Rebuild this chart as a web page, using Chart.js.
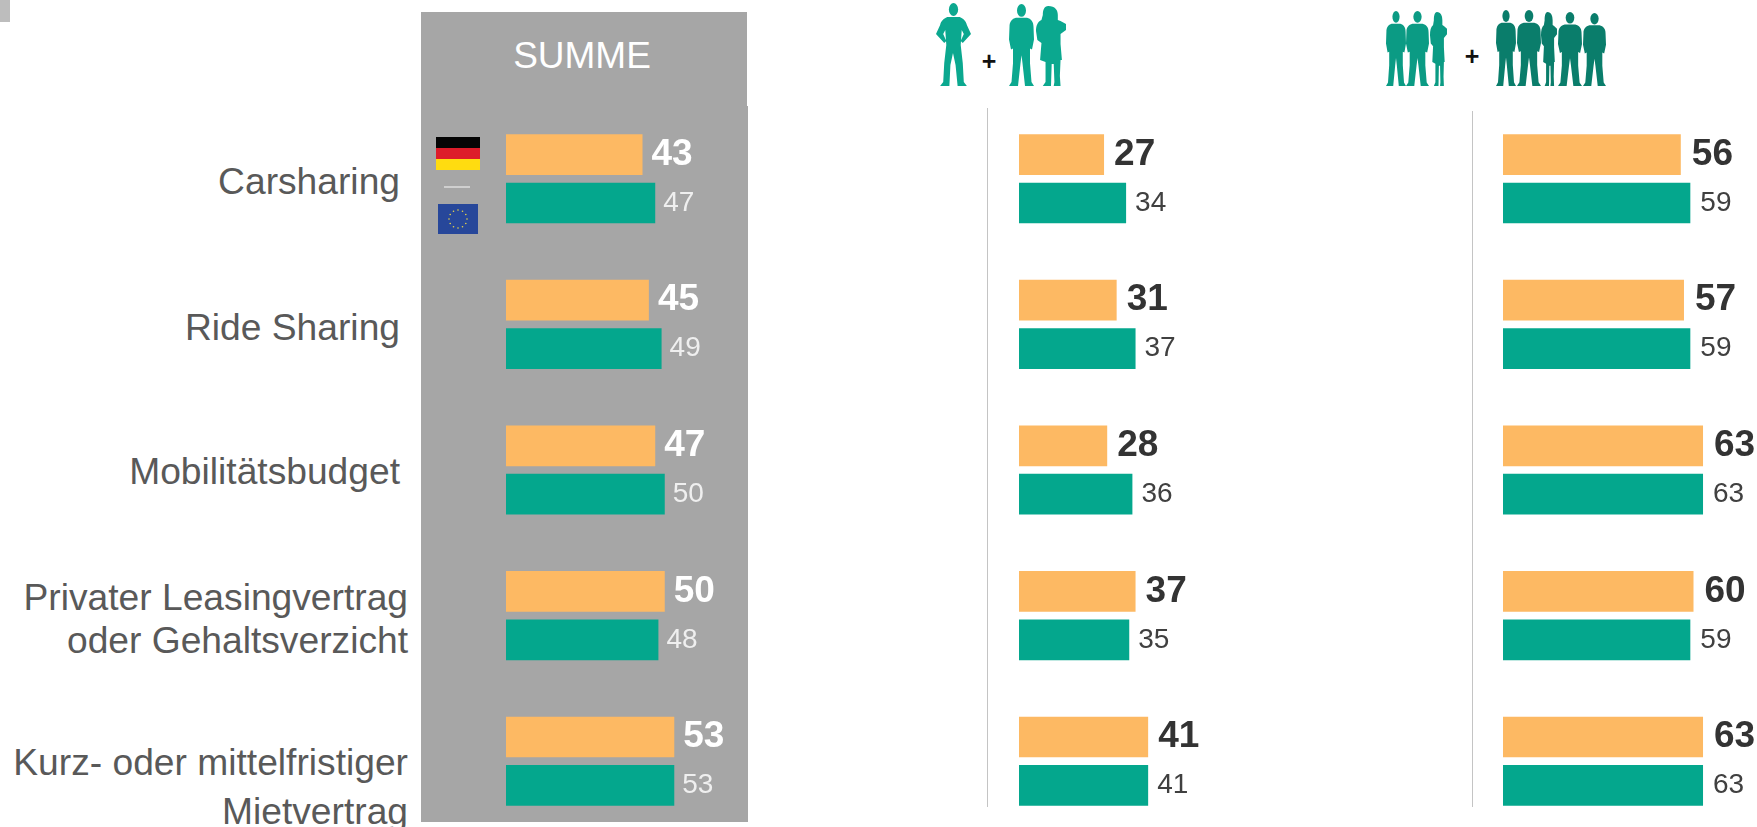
<!DOCTYPE html>
<html lang="de">
<head>
<meta charset="utf-8">
<title>Mobilitätsangebote</title>
<script src="https://cdn.jsdelivr.net/npm/chart.js@4"></script>
<style>
  html, body { margin: 0; padding: 0; width: 1757px; height: 827px; overflow: hidden; background: #fff; font-family: "Liberation Sans", Arial, sans-serif; }
  .abs { position: absolute; }
  .corner { left: 0; top: 0; width: 10px; height: 22px; background: #bdbdbd; }
  .panel { left: 421px; top: 12px; width: 326px; height: 810px; background: #a6a6a6; }
  .panel2 { left: 747px; top: 106px; width: 1px; height: 716px; background: #a6a6a6; }
  .summe { left: 421px; top: 34px; width: 322px; text-align: center; color: #fff; font-size: 37px; line-height: 44px; }
  .rule { width: 1px; background: #c4c4c4; }
  .cat { color: #595959; font-size: 37.2px; text-align: right; white-space: pre-line; width: 420px; }
  .plus { color: #111; font-size: 25px; font-weight: bold; line-height: 26px; width: 24px; text-align: center; }
</style>
</head>
<body>
<div class="abs corner"></div>
<div class="abs panel"></div>
<div class="abs panel2"></div>
<div class="abs summe">SUMME</div>
<div class="abs rule" style="left:987px;top:108px;height:699px"></div>
<div class="abs rule" style="left:1472px;top:111px;height:696px"></div>
<div class="abs plus" style="left:977px;top:48px">+</div>
<div class="abs plus" style="left:1460px;top:43px">+</div>

<svg class="abs" width="1757" height="240" style="left:0;top:0" id="art">
  <defs>
    <symbol id="manHips" viewBox="0 0 34 83" preserveAspectRatio="none">
      <ellipse cx="17" cy="6.500" rx="4.500" ry="6.500"/>
      <path d="M11 14C7 16 5 18 4 22L0 31L8 40L10 38L7 31L9 27L10 42L8 60L7 79L4 83L13 83L14 62L16.500 50L19 62L21 83L30 83L27 79L26 60L24 42L25 27L27 31L24 38L26 40L34 31L30 22C29 18 27 16 23 14Z"/>
    </symbol>
    <symbol id="man" viewBox="0 0 25 83" preserveAspectRatio="none">
      <ellipse cx="12.500" cy="6.500" rx="4.500" ry="6.500"/>
      <path d="M7 14C3 15 0.500 18 0.500 23L0 36L2 46L4 45L4 60L2.500 79L0 83L9 83L11.500 60L12.500 52L13.500 60L16 83L25 83L22.500 79L21 60L21 45L23 46L25 36L24.500 23C24.500 18 22 15 18 14Z"/>
    </symbol>
    <symbol id="woman" viewBox="0 0 22 80" preserveAspectRatio="none">
      <path d="M9 0C6 0 5 4 5 9L4 14C1 16 0 20 0 25L1 34L4 37L3 54L7 56L7 76L5 80L11 80L11.500 58L13 58L13.500 76L13 80L18 80L17.500 70L18 54L19 54L18 38L18 28L22 24L22 18L18 15L16 14L16 9C16 4 14 0 9 0Z"/>
    </symbol>
  </defs>
  <rect x="436" y="137" width="44" height="11" fill="#050505"/>
  <rect x="436" y="148" width="44" height="11" fill="#dd1c2a"/>
  <rect x="436" y="159" width="44" height="11" fill="#ffdc10"/>
  <rect x="444" y="186" width="26" height="2" fill="#cfcfcf"/>
  <rect x="438" y="204" width="40" height="30" fill="#27479a"/>
  <g id="euStars" fill="#e8d44a"></g>
  <g id="people"></g>
</svg>

<div class="abs" style="left:506px;top:106px"><canvas id="chartSumme" width="254" height="728"></canvas></div>
<div class="abs" style="left:1019px;top:106px"><canvas id="chartKlein" width="252" height="728"></canvas></div>
<div class="abs" style="left:1503px;top:106px"><canvas id="chartGross" width="254" height="728"></canvas></div>

<script>
const categories = ['Carsharing', 'Ride Sharing', 'Mobilitätsbudget', 'Privater Leasingvertrag\noder Gehaltsverzicht', 'Kurz- oder mittelfristiger\nMietvertrag'];

const summeDeutschland = [43, 45, 47, 50, 53];
const summeEuropa = [47, 49, 50, 48, 53];
const kleinDeutschland = [27, 31, 28, 37, 41];
const kleinEuropa = [34, 37, 36, 35, 41];
const grossDeutschland = [56, 57, 63, 60, 63];
const grossEuropa = [59, 59, 63, 59, 63];

const ORANGE = '#fdb963';
const GREEN = '#04a78d';

// category text boxes: right edge, vertical centre, line height
const catBoxes = [
  [400, 181, 43],
  [400, 327, 43],
  [400, 471, 43],
  [408, 619, 43],
  [408, 787, 49]
];

categories.forEach((text, i) => {
  const [right, center, lh] = catBoxes[i];
  const el = document.createElement('div');
  el.className = 'abs cat';
  el.textContent = text;
  el.style.left = (right - 420) + 'px';
  el.style.lineHeight = lh + 'px';
  el.style.top = (center - lh * text.split('\n').length / 2) + 'px';
  document.body.appendChild(el);
});

// silhouettes above the two right hand panels
const NS = 'http://www.w3.org/2000/svg';
const addPerson = (id, x, y, w, h, color) => {
  const use = document.createElementNS(NS, 'use');
  use.setAttribute('href', '#' + id);
  use.setAttribute('x', x);
  use.setAttribute('y', y);
  use.setAttribute('width', w);
  use.setAttribute('height', h);
  use.setAttribute('fill', color);
  document.getElementById('people').appendChild(use);
};
addPerson('manHips', 936, 3, 35, 83, '#0ba88f');
addPerson('man', 1009, 4, 25, 82, '#0ba88f');
addPerson('woman', 1036, 6, 30, 80, '#0ba88f');
addPerson('man', 1386, 11, 20, 75, '#0b9b84');
addPerson('man', 1406, 11, 23, 75, '#0b9b84');
addPerson('woman', 1430, 12, 17, 74, '#0b9b84');
addPerson('man', 1496, 10, 20, 76, '#0a7d6b');
addPerson('man', 1517, 10, 24, 76, '#0a7d6b');
addPerson('woman', 1541, 12, 16, 74, '#0a7d6b');
addPerson('man', 1558, 12, 24, 74, '#0a7d6b');
addPerson('man', 1583, 13, 23, 73, '#0a7d6b');

for (let i = 0; i < 12; i++) {
  const a = i * Math.PI / 6;
  const star = document.createElementNS(NS, 'circle');
  star.setAttribute('cx', 458 + 9 * Math.cos(a));
  star.setAttribute('cy', 219 + 9 * Math.sin(a));
  star.setAttribute('r', 0.8);
  document.getElementById('euStars').appendChild(star);
}

// no datalabels plugin here, so the value labels get drawn by hand
const valueLabels = (boldColor, plainColor, extraGap) => ({
  id: 'valueLabels',
  afterDatasetsDraw(chart) {
    const ctx = chart.ctx;
    ctx.save();
    ctx.textBaseline = 'middle';
    ctx.textAlign = 'left';
    chart.data.datasets.forEach((ds, d) => {
      chart.getDatasetMeta(d).data.forEach((bar, i) => {
        ctx.font = d === 0 ? 'bold 37px "Liberation Sans"' : '28px "Liberation Sans"';
        ctx.fillStyle = d === 0 ? boldColor : plainColor;
        ctx.fillText(ds.data[i], bar.x + (d === 0 ? 9 : 8) + extraGap, bar.y);
      });
    });
    ctx.restore();
  }
});

const createChart = (id, top, bottom, boldColor, plainColor, extraGap) => new Chart(document.getElementById(id), {
  type: 'bar',
  data: {
    labels: categories,
    datasets: [
      { label: 'Deutschland', data: top, backgroundColor: ORANGE },
      { label: 'Europa', data: bottom, backgroundColor: GREEN }
    ]
  },
  options: {
    indexAxis: 'y',
    responsive: false,
    animation: false,
    categoryPercentage: 0.665,
    barPercentage: 0.841,
    layout: { padding: 0 },
    scales: {
      x: { display: false, min: 0, max: 80 },
      y: { display: false }
    },
    plugins: {
      legend: { display: false },
      title: { display: false },
      tooltip: { enabled: false }
    }
  },
  plugins: [valueLabels(boldColor, plainColor, extraGap)]
});

createChart('chartSumme', summeDeutschland, summeEuropa, '#ffffff', '#efefef', 0);
createChart('chartKlein', kleinDeutschland, kleinEuropa, '#333333', '#404040', 1);
createChart('chartGross', grossDeutschland, grossEuropa, '#333333', '#404040', 2);
</script>
</body>
</html>
